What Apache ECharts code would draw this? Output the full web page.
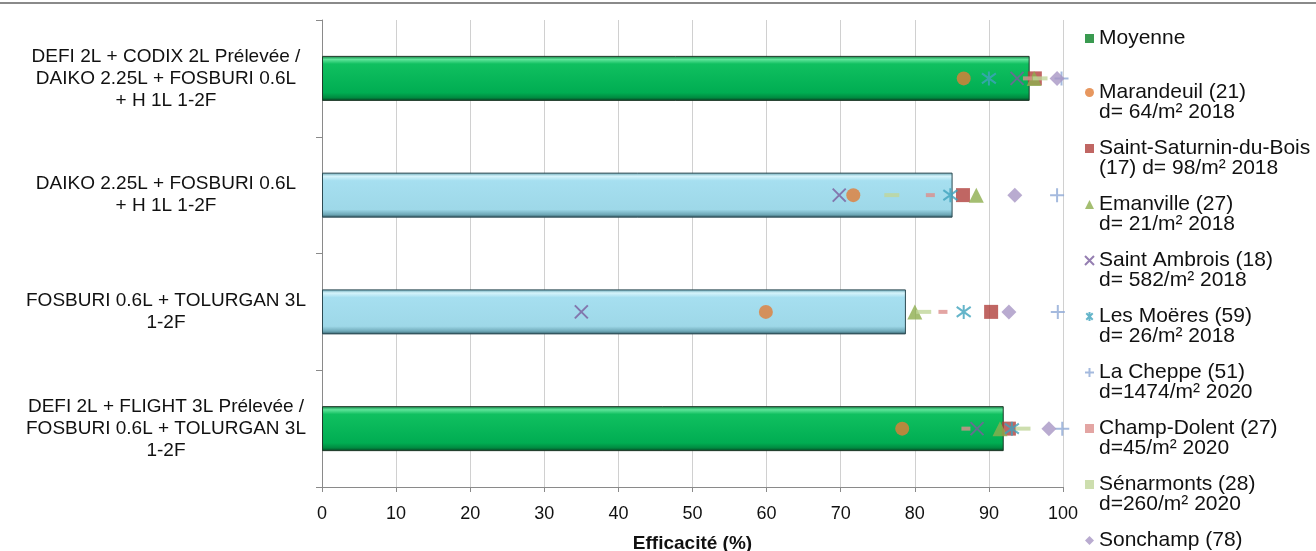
<!DOCTYPE html>
<html>
<head>
<meta charset="utf-8">
<script src="https://cdn.jsdelivr.net/npm/echarts@6/dist/echarts.min.js"></script>
<style>
html,body{margin:0;padding:0;background:#fff;}
#chart{width:1316px;height:551px;}
</style>
</head>
<body>
<div id="chart"></div>
<script>
// ---------- DATA ----------
const categories = [
  'DEFI 2L + CODIX 2L Prélevée /\nDAIKO 2.25L + FOSBURI 0.6L\n+ H 1L 1-2F',
  'DAIKO 2.25L + FOSBURI 0.6L\n+ H 1L 1-2F',
  'FOSBURI 0.6L + TOLURGAN 3L\n1-2F',
  'DEFI 2L + FLIGHT 3L Prélevée /\nFOSBURI 0.6L + TOLURGAN 3L\n1-2F'
];
const xTicks = [0, 10, 20, 30, 40, 50, 60, 70, 80, 90, 100];
const moyenne = [95.5, 85.1, 78.8, 92.0];
const marandeuil = [86.6, 71.7, 59.9, 78.3];
const saintSaturnin = [96.2, 86.5, 90.3, 92.7];
const emanville = [96.1, 88.3, 80.0, 91.5];
const saintAmbrois = [93.8, 69.8, 35.0, 88.4];
const lesMoeres = [90.0, 84.8, 86.6, 93.1];
const laCheppe = [99.8, 99.2, 99.3, 99.9];
const champDolent = [95.2, 82.1, 83.8, 86.9];
const senarmonts = [96.9, 76.9, 81.2, 94.6];
const sonchamp = [99.2, 93.5, 92.7, 98.1];
const seriesNames = [
  'Moyenne',
  'Marandeuil (21)\nd= 64/m² 2018',
  'Saint-Saturnin-du-Bois\n(17) d= 98/m² 2018',
  'Emanville (27)\nd= 21/m² 2018',
  'Saint Ambrois (18)\nd= 582/m² 2018',
  'Les Moëres (59)\nd= 26/m² 2018',
  'La Cheppe (51)\nd=1474/m² 2020',
  'Champ-Dolent (27)\nd=45/m² 2020',
  'Sénarmonts (28)\nd=260/m² 2020',
  'Sonchamp (78)\nd=20/m² 2020'
];
const pointSeries = [marandeuil, saintSaturnin, emanville, saintAmbrois, lesMoeres, laCheppe, champDolent, senarmonts, sonchamp];

// ---------- STYLES ----------
const greenBar = {
  color: {type:'linear', x:0, y:0, x2:0, y2:1, colorStops:[
    {offset:0, color:'#0b7a3c'}, {offset:0.08, color:'#5fe49a'}, {offset:0.18, color:'#10c060'},
    {offset:0.82, color:'#00ad52'}, {offset:0.93, color:'#008a40'}, {offset:1, color:'#0a3a20'}]},
  borderColor:'#1f3a2a', borderWidth:1
};
const blueBar = {
  color: {type:'linear', x:0, y:0, x2:0, y2:1, colorStops:[
    {offset:0, color:'#5a9fb0'}, {offset:0.08, color:'#d6f4fb'}, {offset:0.18, color:'#a6dff0'},
    {offset:0.82, color:'#9ed8e8'}, {offset:0.93, color:'#6fa9b8'}, {offset:1, color:'#2e5560'}]},
  borderColor:'#2c4a52', borderWidth:1
};
const barStyleByIndex = [greenBar, blueBar, blueBar, greenBar];

const markerStyles = [
  {symbol:'circle', size:14, item:{color:'#E17D37'}},
  {symbol:'rect', size:14, item:{color:'#B0403C'}},
  {symbol:'triangle', size:15, item:{color:'#8DAE4E'}},
  {symbol:'path://M0,0 L10,10 M10,0 L0,10', size:13, item:{color:'rgba(0,0,0,0)', borderColor:'#7B5E9E', borderWidth:2}},
  {symbol:'path://M0,0 L10,10 M10,0 L0,10 M5,-2 L5,12', size:14, item:{color:'rgba(0,0,0,0)', borderColor:'#3FA3BD', borderWidth:2}},
  {symbol:'path://M5,0 L5,10 M0,5 L10,5', size:14, item:{color:'rgba(0,0,0,0)', borderColor:'#8FA9D6', borderWidth:2}},
  {symbol:'rect', size:[9,4], item:{color:'#DC8E8C'}},
  {symbol:'rect', size:[15,4], item:{color:'#C0D69A'}},
  {symbol:'diamond', size:15, item:{color:'#A796C4'}}
];

const series = [{
  name: seriesNames[0],
  type: 'bar',
  barWidth: 45,
  data: moyenne.map((v, i) => ({value: v, itemStyle: barStyleByIndex[i]})),
  itemStyle: {color:'#00B050'},
  z: 2
}];
pointSeries.forEach((arr, k) => {
  const st = markerStyles[k];
  series.push({
    name: seriesNames[k + 1],
    type: 'scatter',
    symbol: st.symbol,
    symbolSize: st.size,
    itemStyle: st.item,
    data: arr.map((v, i) => [v, i]),
    z: 3 + k
  });
});

const legendData = seriesNames.map((n, i) => {
  if (i === 0) return {name:n, icon:'rect', itemStyle:{color:'#3a9a50'}, textStyle:{lineHeight:18}};
  return {name:n};
});

const chart = echarts.init(document.getElementById('chart'), null, {renderer:'canvas'});
chart.setOption({
  animation: false,
  backgroundColor: '#ffffff',
  grid: {left:322, right:253, top:20, bottom:64, containLabel:false, outerBoundsMode:'none'},
  xAxis: {
    type:'value', min:0, max:100, interval:10,
    name:'Efficacité (%)', nameLocation:'middle', nameGap:47,
    nameTextStyle:{fontFamily:'Liberation Sans, Arial', fontSize:19, fontWeight:'bold', color:'#111'},
    axisLine:{show:true, lineStyle:{color:'#8a8a8a', width:1}},
    axisTick:{show:true, length:5, lineStyle:{color:'#8a8a8a'}},
    axisLabel:{fontFamily:'Liberation Sans, Arial', fontSize:18, color:'#111', margin:18,
      formatter: v => xTicks.includes(v) ? String(v) : ''},
    splitLine:{show:true, lineStyle:{color:'#d0d0d0', width:1}}
  },
  yAxis: {
    type:'category', inverse:true, data:categories,
    axisLine:{show:true, lineStyle:{color:'#8a8a8a', width:1}},
    axisTick:{show:true, length:6, lineStyle:{color:'#8a8a8a'}},
    axisLabel:{fontFamily:'Liberation Sans, Arial', fontSize:19, lineHeight:22, color:'#111', align:'center', margin:156},
    splitLine:{show:false}
  },
  legend: {
    orient:'vertical', left:1084, top:10, height:800, padding:0, itemWidth:9, itemHeight:9, itemGap:-5,
    textStyle:{fontFamily:'Liberation Sans, Arial', fontSize:21, lineHeight:20, color:'#111'},
    formatter: name => name === seriesNames[0] ? ' \n' + name + '\n ' : ' \n' + name,
    data: legendData
  },
  graphic: [{type:'line', shape:{x1:0, y1:3, x2:1316, y2:3}, style:{stroke:'#8a8a8a', lineWidth:2}, silent:true}],
  series: series
});
</script>
</body>
</html>
